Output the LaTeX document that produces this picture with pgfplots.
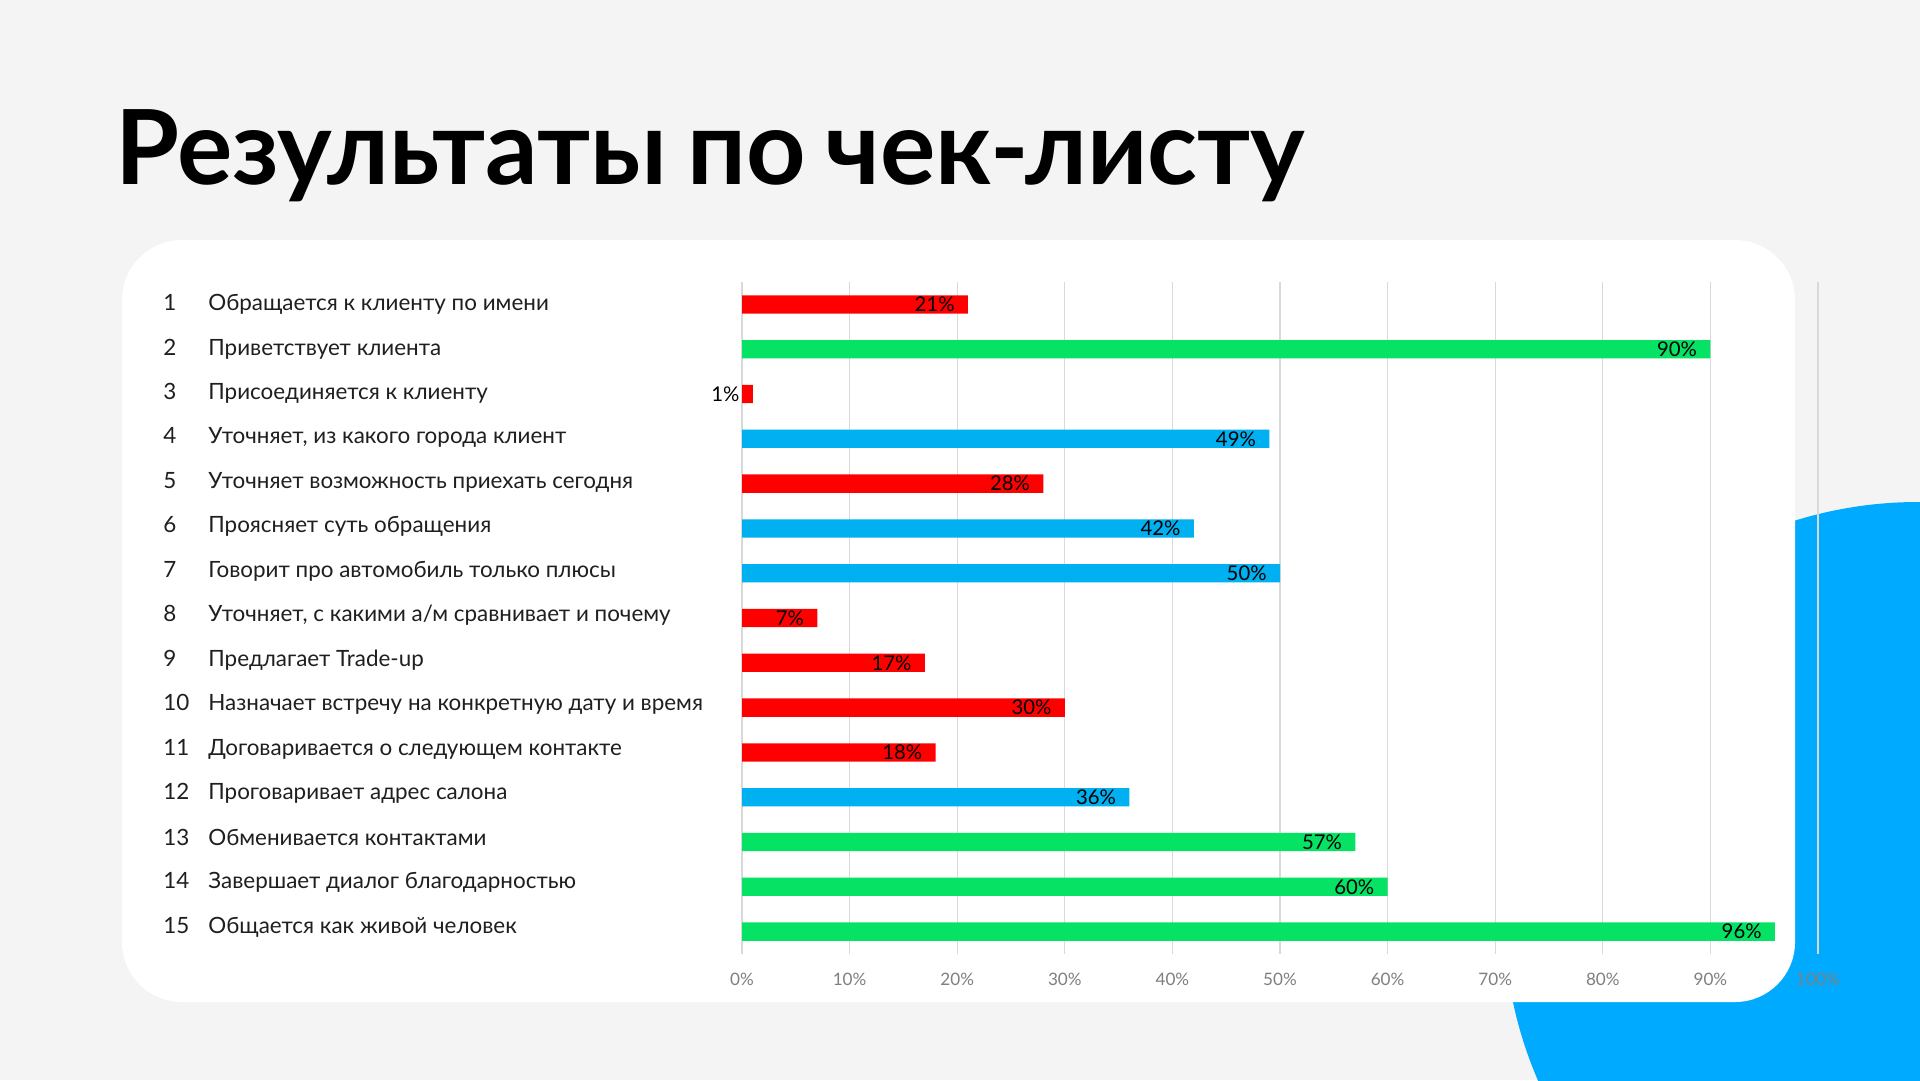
\documentclass[border=0pt]{standalone}
\usepackage{fontspec}
\setmainfont{Lato}
\newfontfamily\titlefont{Lato}[WordSpace=0.8]
\usepackage{pgfplots}
\pgfplotsset{compat=1.18}
\newlength\px \setlength\px{0.5bp}
\definecolor{bg}{HTML}{F4F4F4}
\definecolor{cblue}{HTML}{00AAFF}
\definecolor{barred}{HTML}{FF0000}
\definecolor{bargreen}{HTML}{05E264}
\definecolor{barblue}{HTML}{00B0F0}
\definecolor{gridc}{HTML}{D9D9D9}
\definecolor{tickc}{HTML}{7F7F7F}
\begin{document}
\begin{tikzpicture}
\begin{scope}[x=0.5bp,y=-0.5bp]
\useasboundingbox (0,0) rectangle (1920,1080);
\fill[bg] (0,0) rectangle (1920,1080);
\begin{scope}
\clip (0,0) rectangle (1920,1080);
\fill[cblue] (1918,916) circle[radius=414\px];
\end{scope}
\fill[white, rounded corners=30bp] (122,240) rectangle (1795,1002);
\node[anchor=base west, inner sep=0pt, font=\titlefont\fontsize{52}{60}\selectfont\bfseries] at (115,184) {Результаты по чек-листу};
\end{scope}
\begin{axis}[
  at={(742\px,-954\px)}, anchor=south west,
  scale only axis, width=1076\px, height=672\px,
  clip=false,
  xbar, bar width=18.3\px, bar shift=0pt,
  xmin=0, xmax=100, ymin=0.5, ymax=15.5, y dir=reverse,
  /pgf/number format/assume math mode=true,
  xtick={0,10,...,100},
  xticklabel={\pgfmathprintnumber{\tick}\%},
  xticklabel style={anchor=base, yshift=-31\px, inner sep=0pt, font=\fontsize{8.6}{10}\selectfont, text=tickc},
  xmajorgrids, grid style={gridc, line width=1.3\px},
  axis line style={draw=none},
  major tick length=0pt,
  ytick={1,...,15},
  yticklabels={
    {\makebox[45\px][l]{1}Обращается к клиенту по имени},
    {\makebox[45\px][l]{2}Приветствует клиента},
    {\makebox[45\px][l]{3}Присоединяется к клиенту},
    {\makebox[45\px][l]{4}Уточняет, из какого города клиент},
    {\makebox[45\px][l]{5}Уточняет возможность приехать сегодня},
    {\makebox[45\px][l]{6}Проясняет суть обращения},
    {\makebox[45\px][l]{7}Говорит про автомобиль только плюсы},
    {\makebox[45\px][l]{8}Уточняет, с какими а/м сравнивает и почему},
    {\makebox[45\px][l]{9}Предлагает Trade-up},
    {\makebox[45\px][l]{10}Назначает встречу на конкретную дату и время},
    {\makebox[45\px][l]{11}Договаривается о следующем контакте},
    {\makebox[45\px][l]{12}Проговаривает адрес салона},
    {\makebox[45\px][l]{13}Обменивается контактами},
    {\makebox[45\px][l]{14}Завершает диалог благодарностью},
    {\makebox[45\px][l]{15}Общается как живой человек}},
  yticklabel style={anchor=west, inner sep=0pt, xshift=-579\px, yshift=\ticknum*0.34\px, font=\fontsize{11.25}{13}\selectfont, text=black!88},
  point meta=x,
  nodes near coords={\pgfmathprintnumber{\pgfplotspointmeta}\%},
  nodes near coords style={anchor=east, inner sep=0pt, xshift=-13\px, font=\fontsize{10.2}{12}\selectfont, text=black},
]
\addplot[draw=none, fill=barred] coordinates {(21,1) (1,3) (28,5) (7,8) (17,9) (30,10) (18,11)};
\addplot[draw=none, fill=bargreen] coordinates {(90,2) (57,13) (60,14) (96,15)};
\addplot[draw=none, fill=barblue] coordinates {(49,4) (42,6) (50,7) (36,12)};
\end{axis}
\end{tikzpicture}
\end{document}
